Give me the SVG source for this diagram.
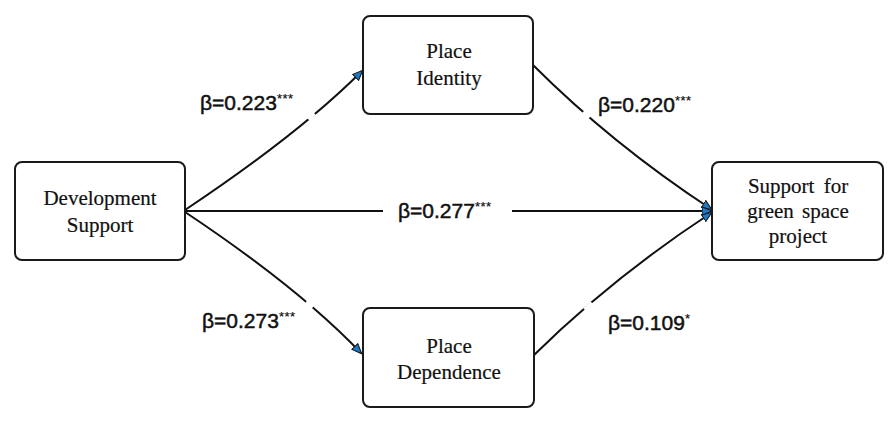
<svg xmlns="http://www.w3.org/2000/svg" width="896" height="421" viewBox="0 0 896 421">
<defs>
<style>
.box{fill:#fff;stroke:#1a1a1a;stroke-width:2}
.nt{font-family:"Liberation Serif","Times New Roman",serif;font-size:21px;fill:#111;text-anchor:middle;stroke:#111;stroke-width:0.2}
.lbl{font-family:"Liberation Sans",Arial,sans-serif;font-size:21px;fill:#111;stroke:#111;stroke-width:0.5}
.sup{font-size:13px;letter-spacing:0.5px;stroke-width:0.2}
.edge{fill:none;stroke:#111;stroke-width:2}
.gap{stroke:#fff;stroke-width:5;fill:none}
</style>
<marker id="arr" viewBox="0 0 10 10" refX="9" refY="5" markerWidth="11" markerHeight="10" markerUnits="userSpaceOnUse" orient="auto">
<path d="M0,0.8 L10,5 L0,9.2 Z" fill="#1f78c1" stroke="#111" stroke-width="1"/>
</marker>
</defs>
<rect width="896" height="421" fill="#fff"/>
<g id="connectors">
<path class="edge" d="M185,210 Q299,134 362,71" marker-end="url(#arr)"/>
<path class="edge" d="M185,212 Q299,288 361,353" marker-end="url(#arr)"/>
<path class="edge" d="M533,65 Q612,144 711,209" marker-end="url(#arr)"/>
<path class="edge" d="M533,356 Q612,278 711,213" marker-end="url(#arr)"/>
<line class="edge" x1="185" y1="211" x2="383" y2="211"/>
<line class="edge" x1="512" y1="211" x2="711" y2="211" marker-end="url(#arr)"/>
<line class="gap" x1="308" y1="119" x2="314" y2="113"/>
<line class="gap" x1="306" y1="302" x2="313" y2="307"/>
<line class="gap" x1="583" y1="112" x2="589" y2="118"/>
<line class="gap" x1="585" y1="310" x2="592" y2="303"/>
</g>
<g id="labels">
<text class="lbl" x="200" y="110">β=0.223<tspan class="sup" dy="-7">***</tspan></text>
<text class="lbl" x="598" y="112">β=0.220<tspan class="sup" dy="-7">***</tspan></text>
<text class="lbl" x="202" y="328">β=0.273<tspan class="sup" dy="-7">***</tspan></text>
<text class="lbl" x="608" y="330">β=0.109<tspan class="sup" dy="-7">*</tspan></text>
<text class="lbl" x="398" y="218">β=0.277<tspan class="sup" dy="-7">***</tspan></text>
</g>
<g id="development-support">
<rect class="box" x="15" y="162" width="170" height="98" rx="7"/>
<text class="nt" x="100" y="205">Development</text>
<text class="nt" x="100" y="232">Support</text>
</g>
<g id="place-identity">
<rect class="box" x="363" y="16" width="170" height="98" rx="7"/>
<text class="nt" x="449" y="58">Place</text>
<text class="nt" x="449" y="85">Identity</text>
</g>
<g id="place-dependence">
<rect class="box" x="363" y="308" width="171" height="99" rx="7"/>
<text class="nt" x="449" y="353">Place</text>
<text class="nt" x="449" y="379">Dependence</text>
</g>
<g id="support-green-space">
<rect class="box" x="712" y="162" width="171" height="98" rx="7"/>
<text class="nt" x="798" y="193" word-spacing="4">Support for</text>
<text class="nt" x="798" y="218" word-spacing="3">green space</text>
<text class="nt" x="798" y="243">project</text>
</g>
</svg>
